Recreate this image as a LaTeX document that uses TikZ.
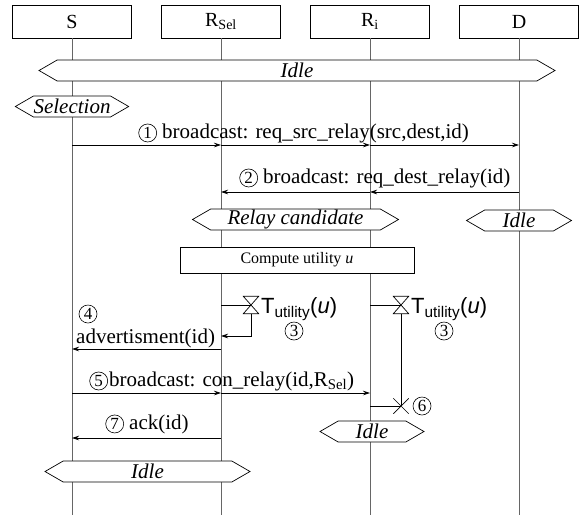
\documentclass[tikz,border=0pt]{standalone}
\usepackage{fontspec}
\setmainfont{Liberation Serif}
\newfontfamily\timerfont{Liberation Sans}
\usetikzlibrary{positioning,shapes.symbols,arrows.meta}

\tikzset{
  entity/.style={draw, rectangle, minimum width=119pt, minimum height=33pt, line width=0.7pt, font=\fontsize{20}{24}\selectfont},
  lifeline/.style={draw=black!60, line width=0.9pt},
  state/.style={draw, signal, signal to=west and east, signal pointer angle=60, fill=white, minimum height=21pt, inner sep=0pt, line width=0.7pt, font=\fontsize{21}{24}\selectfont\itshape},
  task/.style={draw, rectangle, fill=white, minimum width=234pt, minimum height=26pt, line width=0.7pt, font=\fontsize{16}{18}\selectfont},
  msg/.style={inner sep=0pt, font=\fontsize{21}{24}\selectfont},
  num/.style={draw, circle, inner sep=0pt, minimum size=18pt, line width=0.6pt, font=\fontsize{17}{18}\selectfont},
  timer/.style={rectangle, minimum width=15pt, minimum height=17pt, inner sep=0pt},
  timeout/.style={rectangle, minimum size=15pt, inner sep=0pt},
  timerlabel/.style={inner sep=0pt, font=\timerfont\fontsize{22}{26}\selectfont},
  line/.style={-{Stealth[length=7pt,width=4.5pt]}, line width=0.7pt},
  link/.style={line width=0.7pt}
}

\begin{document}
\begin{tikzpicture}[x=1pt, y=-1pt]
\useasboundingbox (0,0) rectangle (585,517);

% Entities
\node[entity] (S) at (72,21.5) {S};
\node[entity] (RS) at (221,21.5) {R\textsubscript{Sel}};
\node[entity] (RI) at (370,21.5) {R\textsubscript{i}};
\node[entity] (D) at (519,21.5) {D};

% Life lines
\coordinate (bottom) at (0,515);
\foreach \n in {S,RS,RI,D}
  \draw[lifeline] (\n.south) -- (\n.south |- bottom);

% States
\node[state, minimum width=516pt] (idle0) at (297,70.5) {Idle};
\node[state, minimum width=112pt] (sel) at (72,106.5) {Selection};

% Message 1
\coordinate (y1) at (0,145);
\draw[line] (S |- y1) -- (RS |- y1);
\draw[line] (RS |- y1) -- (RI |- y1);
\draw[line] (RI |- y1) -- (D |- y1);
\node[msg, anchor=base west] (m1) at (162,138) {broadcast: req\_src\_relay(src,dest,id)};
\node[num, left=5pt of m1] (n1) {1};

% Message 2
\coordinate (y2) at (0,192);
\draw[line] (D |- y2) -- (RI |- y2);
\draw[line] (RI |- y2) -- (RS |- y2);
\node[msg, anchor=base west] (m2) at (263,183) {broadcast: req\_dest\_relay(id)};
\node[num, left=5pt of m2] (n2) {2};

\node[state, minimum width=206pt] (cand) at (295.5,219.5) {Relay candidate};
\node[state, minimum width=105pt] (idleD) at (519,220.5) {Idle};

% Compute utility
\node[task] (comp) at (297,260) {Compute utility \textit{u}};

% Timer at R_Sel
\node[timer] (t1) at (251,305) {};
\draw[link] (t1.north west) -- (t1.north east) -- (t1.south west) -- (t1.south east) -- cycle;
\draw[link] (RS |- t1) -- (t1.center);
\node[timerlabel, anchor=base west] (tl1) at (261,313) {T\textsubscript{utility}(\textit{u})};
\node[num] (n3a) at (294,331) {3};
\coordinate (y3) at (0,336);
\draw[line] (t1.south) |- (RS |- y3);

% Timer at R_i
\node[timer] (t2) at (401,305) {};
\draw[link] (t2.north west) -- (t2.north east) -- (t2.south west) -- (t2.south east) -- cycle;
\draw[link] (RI |- t2) -- (t2.center);
\node[timerlabel, anchor=base west] (tl2) at (411,313) {T\textsubscript{utility}(\textit{u})};
\node[num] (n3b) at (444,331) {3};

% Message 4
\coordinate (y4) at (0,349);
\draw[line] (RS |- y4) -- (S |- y4);
\node[msg, anchor=base west] (m4) at (76,343) {advertisment(id)};
\node[num] (n4) at (88,314) {4};

% Message 5
\coordinate (y5) at (0,393);
\draw[line] (S |- y5) -- (RS |- y5);
\draw[line] (RS |- y5) -- (RI |- y5);
\node[msg, anchor=base west] (m5) at (109,386) {broadcast: con\_relay(id,R\textsubscript{Sel})};
\node[num, left=1pt of m5] (n5) {5};

% Timeout at R_i
\node[timeout] (x1) at (401,406) {};
\draw[link] (x1.north west) -- (x1.south east) (x1.north east) -- (x1.south west);
\draw[link] (t2.south) -- (x1.center);
\draw[link] (RI |- x1) -- (x1.center);
\node[num, right=4pt of x1] (n6) {6};
\node[state, minimum width=104pt] (idleR) at (372,431.5) {Idle};

% Message 7
\coordinate (y7) at (0,438);
\draw[line] (RS |- y7) -- (S |- y7);
\node[msg, anchor=base west] (m7) at (129,429) {ack(id)};
\node[num, left=5pt of m7] (n7) {7};

\node[state, minimum width=205pt] (idleS) at (147.5,471.5) {Idle};

\end{tikzpicture}
\end{document}
